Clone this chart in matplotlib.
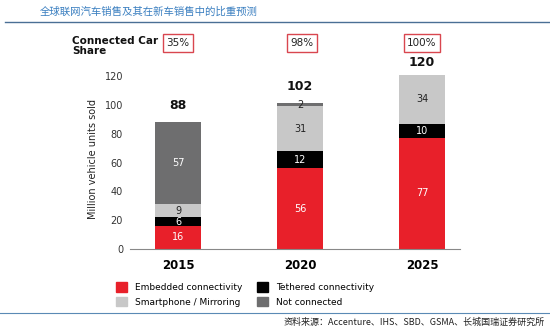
import matplotlib.pyplot as plt
from matplotlib.patches import Patch
from matplotlib.lines import Line2D

plt.rcParams['font.family'] = ['DejaVu Sans', 'Noto Sans CJK SC']

years = ['2015', '2020', '2025']
embedded = [16, 56, 77]
tethered = [6, 12, 10]
smartphone = [9, 31, 34]
not_connected = [57, 2, 0]
totals = [88, 102, 120]
shares = ['35%', '98%', '100%']

series = [
    ('Embedded connectivity', embedded, '#e8202a', 'white'),
    ('Tethered connectivity', tethered, '#000000', 'white'),
    ('Smartphone / Mirroring', smartphone, '#c8c8c8', '#222222'),
    ('Not connected', not_connected, '#6e6e6f', 'white'),
]

fig = plt.figure(figsize=(5.5, 3.32), dpi=100)
ax = fig.add_axes([130 / 550, 1 - 249 / 332, 330 / 550, (249 - 68.8) / 332])

x = list(range(len(years)))
bottom = [0, 0, 0]
for name, vals, col, tcol in series:
    ax.bar(x, vals, width=0.38, bottom=bottom, color=col, label=name, zorder=2)
    for i, v in enumerate(vals):
        if v <= 0:
            continue
        c = '#222222' if (name == 'Not connected' and v < 5) else tcol
        ax.text(i, bottom[i] + v / 2, str(v), ha='center', va='center',
                fontsize=7, color=c, zorder=3)
    bottom = [b + v for b, v in zip(bottom, vals)]

for i, t in enumerate(totals):
    ax.text(i, min(bottom[i] + 11.5, 129.5), str(t), ha='center', va='center',
            fontsize=9, fontweight='bold', color='#111111', clip_on=False)

ax.set_xlim(-0.393, 2.31)
ax.set_ylim(0, 125)
ax.set_yticks([0, 20, 40, 60, 80, 100, 120])
ax.set_xticks(x)
ax.set_xticklabels(years, fontsize=8.5, fontweight='bold')
ax.tick_params(axis='y', length=0, labelsize=7, pad=5, colors='#333333')
ax.tick_params(axis='x', length=0, pad=7)
for s in ['top', 'right', 'left']:
    ax.spines[s].set_visible(False)
ax.spines['bottom'].set_color('#888888')
ax.spines['bottom'].set_linewidth(0.8)
ax.set_ylabel('Million vehicle units sold', fontsize=7, color='#222222', labelpad=5)

# share boxes
box_x = [178, 302, 422]
for bx, s in zip(box_x, shares):
    fig.text(bx / 550, 1 - 43 / 332, s, ha='center', va='center', fontsize=7.5,
             color='#222222',
             bbox=dict(boxstyle='square,pad=0.35', fc='white', ec='#d9464f', lw=1))
fig.text(72 / 550, 1 - 46 / 332, 'Connected Car\nShare', ha='left', va='center',
         fontsize=7.5, fontweight='bold', color='#111111', linespacing=1.1)

# title and source
fig.text(40 / 550, 1 - 12 / 332, '全球联网汽车销售及其在新车销售中的比重预测',
         family=['Noto Sans CJK SC'], fontsize=7.5, color='#3a7fc0',
         ha='left', va='center')
fig.add_artist(Line2D([5 / 550, 1], [1 - 22 / 332] * 2, color='#4a6f95', lw=1))
fig.add_artist(Line2D([0, 1], [1 - 313 / 332] * 2, color='#5a8ab5', lw=0.8))
fig.text(545 / 550, 1 - 322 / 332,
         '资料来源：Accenture、IHS、SBD、GSMA、长城国瑞证券研究所',
         family=['Noto Sans CJK SC'], fontsize=6.5, color='#222222', style='italic',
         ha='right', va='center')

handles = [Patch(color=c) for _, _, c, _ in series]
labels = [n for n, _, _, _ in series]
order = [0, 2, 1, 3]
fig.legend([handles[i] for i in order], [labels[i] for i in order],
           loc='center left', bbox_to_anchor=(108 / 550, 1 - 294.5 / 332),
           ncol=2, frameon=False, fontsize=6.5, handlelength=1.2, handleheight=1.2,
           columnspacing=1.6, handletextpad=0.9, labelspacing=0.55)

fig.savefig('out.png', dpi=100)
